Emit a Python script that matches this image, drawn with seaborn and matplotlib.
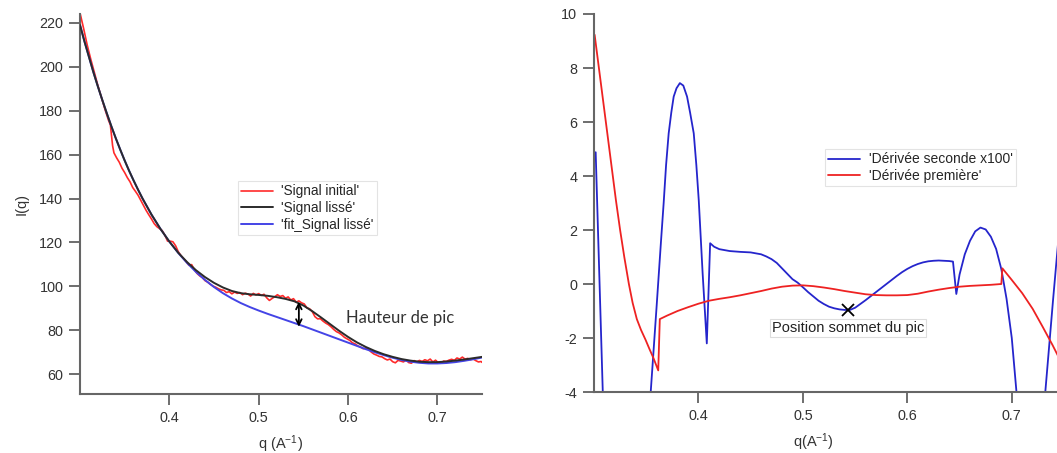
import numpy as np
import pandas as pd
import matplotlib
matplotlib.use('Agg')
import matplotlib.pyplot as plt
import seaborn as sns

# ---- left panel: raw signal, smoothed signal, fit of the smoothed signal
q_raw = [0.300, 0.304, 0.308, 0.312, 0.316, 0.320, 0.324, 0.328, 0.332, 0.334,
         0.3365, 0.338, 0.341, 0.344, 0.347, 0.350, 0.353, 0.356, 0.359, 0.362,
         0.365, 0.368, 0.371, 0.374, 0.377, 0.380, 0.383, 0.386, 0.389, 0.392,
         0.395, 0.398, 0.401, 0.404, 0.407, 0.410, 0.413, 0.416, 0.419, 0.422,
         0.425, 0.428, 0.431, 0.434, 0.437, 0.440, 0.443, 0.446, 0.449, 0.452,
         0.455, 0.458, 0.461, 0.464, 0.467, 0.470, 0.473, 0.476, 0.479, 0.482,
         0.485, 0.488, 0.491, 0.494, 0.497, 0.500, 0.503, 0.506, 0.509, 0.512,
         0.515, 0.518, 0.521, 0.524, 0.527, 0.530, 0.533, 0.536, 0.539, 0.542,
         0.545, 0.548, 0.551, 0.554, 0.557, 0.560, 0.563, 0.566, 0.569, 0.572,
         0.575, 0.578, 0.581, 0.584, 0.587, 0.590, 0.593, 0.596, 0.599, 0.602,
         0.605, 0.608, 0.611, 0.614, 0.617, 0.620, 0.623, 0.626, 0.629, 0.632,
         0.635, 0.638, 0.641, 0.644, 0.647, 0.650, 0.653, 0.656, 0.659, 0.662,
         0.665, 0.668, 0.671, 0.674, 0.677, 0.680, 0.683, 0.686, 0.689, 0.692,
         0.695, 0.698, 0.701, 0.704, 0.707, 0.710, 0.713, 0.716, 0.719, 0.722,
         0.725, 0.728, 0.731, 0.734, 0.737, 0.740, 0.743, 0.746, 0.749, 0.750]
I_raw = [224.5, 217.5, 210.0, 203.5, 197.5, 191.5, 186.0, 180.5, 175.5, 173.5,
         164.0, 160.8, 158.5, 156.5, 153.8, 151.8, 149.5, 147.6, 145.0, 143.3,
         141.5, 139.2, 137.0, 134.6, 132.6, 130.7, 128.6, 127.2, 126.3, 125.4,
         123.3, 120.6, 120.6, 120.3, 118.5, 115.8, 114.0, 112.6, 111.2, 109.6,
         109.9, 107.6, 105.9, 104.8, 104.0, 102.6, 101.9, 100.9, 100.1, 99.6,
         98.9, 98.4, 98.2, 97.2, 97.6, 96.6, 97.4, 96.8, 97.2, 96.2,
         96.9, 96.5, 95.6, 96.8, 96.1, 96.7, 95.9, 96.4, 94.8, 93.6,
         94.5, 95.3, 96.2, 95.4, 95.8, 94.6, 95.2, 93.8, 94.4, 92.8,
         93.4, 92.5, 92.0, 90.2, 89.8, 88.5, 86.2, 85.2, 85.3, 84.2,
         83.3, 82.6, 81.6, 80.4, 79.4, 78.8, 77.9, 76.8, 76.1, 75.4,
         74.3, 73.8, 72.9, 72.4, 71.6, 71.9, 71.3, 70.1, 69.2, 68.7,
         68.1, 67.9, 67.1, 66.5, 66.9, 65.7, 65.2, 66.3, 66.0, 65.6,
         66.4, 65.3, 65.0, 66.2, 65.6, 66.3, 65.8, 66.6, 66.1, 66.9,
         65.6, 66.4, 65.3, 65.0, 66.0, 65.8, 66.4, 66.8, 66.3, 67.4,
         66.9, 67.8, 66.9, 67.2, 66.6, 67.0, 66.2, 65.6, 65.8, 65.4]

q_fit = [0.300, 0.305, 0.310, 0.315, 0.320, 0.325, 0.330, 0.335, 0.340, 0.345,
         0.350, 0.355, 0.360, 0.365, 0.370, 0.380, 0.390, 0.400, 0.410, 0.420,
         0.430, 0.440, 0.450, 0.460, 0.470, 0.480, 0.490, 0.500, 0.510, 0.520,
         0.530, 0.540, 0.550, 0.560, 0.570, 0.580, 0.590, 0.600, 0.610, 0.620,
         0.630, 0.640, 0.650, 0.660, 0.670, 0.680, 0.690, 0.700, 0.710, 0.720,
         0.730, 0.740, 0.750]
I_smooth = [219.0, 211.5, 204.5, 197.5, 191.0, 184.8, 178.8, 173.0, 167.5, 162.3,
            157.3, 152.6, 148.2, 144.0, 140.0, 132.7, 126.2, 120.4, 115.3, 111.0,
            107.3, 104.2, 101.6, 99.5, 97.9, 96.9, 96.4, 96.1, 95.7, 95.1,
            94.3, 93.2, 91.3, 88.7, 85.8, 82.8, 79.8, 77.0, 74.5, 72.4,
            70.6, 69.1, 67.9, 66.9, 66.2, 65.7, 65.5, 65.5, 65.8, 66.2,
            66.7, 67.3, 67.9]
I_fit = [219.0, 211.5, 204.5, 197.5, 191.0, 184.8, 178.8, 173.0, 167.5, 162.3,
         157.3, 152.6, 148.2, 144.0, 140.0, 132.7, 126.2, 120.4, 115.2, 110.6,
         106.5, 102.9, 99.7, 96.9, 94.5, 92.4, 90.6, 89.0, 87.5, 86.1,
         84.7, 83.3, 81.9, 80.4, 78.9, 77.4, 75.9, 74.4, 72.9, 71.4,
         70.0, 68.7, 67.5, 66.5, 65.7, 65.2, 64.9, 64.9, 65.1, 65.5,
         66.1, 66.8, 67.6]

peak_q = 0.545
peak_top, peak_base = 93.0, 81.6

# ---- right panel: derivatives
q_d1 = [0.3006, 0.321, 0.325, 0.329, 0.3334, 0.337, 0.341, 0.345, 0.3494, 0.353,
        0.357, 0.3615, 0.363, 0.370, 0.380, 0.390, 0.400, 0.410, 0.420, 0.430,
        0.440, 0.450, 0.460, 0.470, 0.480, 0.490, 0.500, 0.510, 0.520, 0.530,
        0.540, 0.550, 0.560, 0.570, 0.580, 0.590, 0.600, 0.610, 0.620, 0.630,
        0.640, 0.650, 0.660, 0.670, 0.680, 0.690, 0.691, 0.700, 0.710, 0.720,
        0.7295, 0.739, 0.750]
d1 = [9.23, 3.10, 2.00, 1.00, 0.00, -0.70, -1.30, -1.70, -2.07, -2.40,
      -2.75, -3.20, -1.30, -1.17, -1.00, -0.86, -0.73, -0.62, -0.55, -0.49,
      -0.42, -0.34, -0.26, -0.17, -0.10, -0.06, -0.05, -0.08, -0.13, -0.19,
      -0.26, -0.32, -0.38, -0.41, -0.42, -0.42, -0.41, -0.36, -0.28, -0.21,
      -0.15, -0.10, -0.07, -0.05, -0.03, 0.00, 0.58, 0.15, -0.34, -0.92,
      -1.58, -2.26, -3.10]

q_d2 = [0.3016, 0.3232, 0.3543, 0.360, 0.364, 0.3667, 0.369, 0.3715, 0.374, 0.3763,
        0.379, 0.3822, 0.3855, 0.3891, 0.392, 0.3955, 0.398, 0.4003, 0.404, 0.408,
        0.4112, 0.415, 0.420, 0.430, 0.440, 0.450, 0.460, 0.465, 0.470, 0.475,
        0.480, 0.485, 0.490, 0.495, 0.500, 0.505, 0.510, 0.515, 0.520, 0.525,
        0.530, 0.535, 0.540, 0.545, 0.550, 0.555, 0.560, 0.565, 0.570, 0.575,
        0.580, 0.585, 0.590, 0.595, 0.600, 0.605, 0.610, 0.615, 0.620, 0.625,
        0.630, 0.635, 0.640, 0.6437, 0.6469, 0.650, 0.655, 0.660, 0.665, 0.670,
        0.675, 0.680, 0.685, 0.690, 0.695, 0.700, 0.7045, 0.719, 0.731, 0.7395,
        0.750]
d2 = [4.88, -23.3, -4.00, -0.80, 1.50, 3.00, 4.40, 5.58, 6.35, 6.94,
      7.25, 7.44, 7.35, 6.94, 6.35, 5.58, 4.40, 3.10, 0.40, -2.20,
      1.51, 1.38, 1.29, 1.22, 1.19, 1.17, 1.10, 1.02, 0.92, 0.78,
      0.58, 0.38, 0.18, 0.05, -0.12, -0.30, -0.46, -0.62, -0.74, -0.84,
      -0.90, -0.94, -0.96, -0.96, -0.88, -0.74, -0.60, -0.45, -0.30, -0.15,
      0.00, 0.15, 0.30, 0.44, 0.56, 0.66, 0.74, 0.80, 0.84, 0.86,
      0.87, 0.86, 0.85, 0.83, -0.37, 0.35, 1.10, 1.60, 1.95, 2.09,
      2.02, 1.75, 1.30, 0.55, -0.55, -2.00, -4.00, -9.80, -4.50, -0.60,
      4.00]

top_q, top_d2 = 0.543, -0.97
label_q, label_d2 = 0.5433, -1.63

sns.set_theme(style='ticks')
plt.rcParams['font.family'] = ['Liberation Sans', 'DejaVu Sans']
plt.rcParams['mathtext.default'] = 'regular'
plt.rcParams['axes.unicode_minus'] = False

fig = plt.figure(figsize=(10.57, 4.53), dpi=100)
ax1 = fig.add_axes([80 / 1057, 59 / 453, 402 / 1057, 380 / 453])
ax2 = fig.add_axes([594 / 1057, 61 / 453, 470 / 1057, 378 / 453])

sns.lineplot(x=q_raw, y=I_raw, ax=ax1, color='#ff2a2a', lw=1.2, label="'Signal initial'", estimator=None)
sns.lineplot(x=q_fit, y=I_smooth, ax=ax1, color='#2b2b2b', lw=1.4, label="'Signal lissé'", estimator=None)
sns.lineplot(x=q_fit, y=I_fit, ax=ax1, color='#4444e6', lw=1.4, label="'fit_Signal lissé'", estimator=None)
ax1.lines[1].set_zorder(3)

ax1.annotate('', xy=(peak_q, peak_base), xytext=(peak_q, peak_top),
             arrowprops=dict(arrowstyle='<->', color='black', lw=1.3,
                             shrinkA=0, shrinkB=0, mutation_scale=10))
ax1.text(0.598, 85.6, 'Hauteur de pic', fontfamily=['Lato', 'DejaVu Sans'],
         fontsize=12, color='#333333', va='center')

ax1.set_xlim(0.3, 0.75)
ax1.set_ylim(51, 224)
ax1.set_xticks([0.4, 0.5, 0.6, 0.7])
ax1.set_yticks(range(60, 221, 20))
ax1.set_xlabel('q (A$^{-1}$)', fontsize=10.5, color='#333333', labelpad=6)
ax1.set_ylabel('I(q)', fontsize=10.5, color='#333333', labelpad=8)
leg1 = ax1.legend(loc='upper left', bbox_to_anchor=(0.393, 0.5605), borderaxespad=0,
                  fontsize=9.8, frameon=True, fancybox=False, edgecolor='#dddddd',
                  handlelength=2.3, borderpad=0.25, labelspacing=0.2, handletextpad=0.6)
leg1.get_frame().set_linewidth(0.8)

sns.lineplot(x=q_d2, y=d2, ax=ax2, color='#2525cc', lw=1.3, label="'Dérivée seconde x100'", estimator=None)
sns.lineplot(x=q_d1, y=d1, ax=ax2, color='#ee2222', lw=1.3, label="'Dérivée première'", estimator=None)
ax2.plot([top_q], [top_d2], marker='x', ms=9, mew=1.3, color='black', ls='none')
ax2.text(label_q, label_d2, 'Position sommet du pic', ha='center', va='center', fontsize=10.5,
         color='#222222',
         bbox=dict(boxstyle='square,pad=0.12', fc='white', ec='#dddddd', lw=0.8))

ax2.set_xlim(0.3, 0.75)
ax2.set_ylim(-4, 10)
ax2.set_xticks([0.4, 0.5, 0.6, 0.7])
ax2.set_yticks(range(-4, 11, 2))
ax2.set_xlabel('q(A$^{-1}$)', fontsize=10.5, color='#333333')
ax2.xaxis.set_label_coords(0.466, -0.105)
leg2 = ax2.legend(loc='upper left', bbox_to_anchor=(0.491, 0.643), borderaxespad=0,
                  fontsize=10, frameon=True, fancybox=False, edgecolor='#dddddd',
                  handlelength=2.3, borderpad=0.25, labelspacing=0.15, handletextpad=0.6)
leg2.get_frame().set_linewidth(0.8)

for ax in (ax1, ax2):
    sns.despine(ax=ax)
    for s in ('left', 'bottom'):
        ax.spines[s].set_color('#666666')
        ax.spines[s].set_linewidth(1.5)
    ax.tick_params(direction='out', length=8, width=1.2, color='#555555',
                   labelsize=10.4, labelcolor='#333333', pad=4)

fig.savefig('out.png', dpi=100)
